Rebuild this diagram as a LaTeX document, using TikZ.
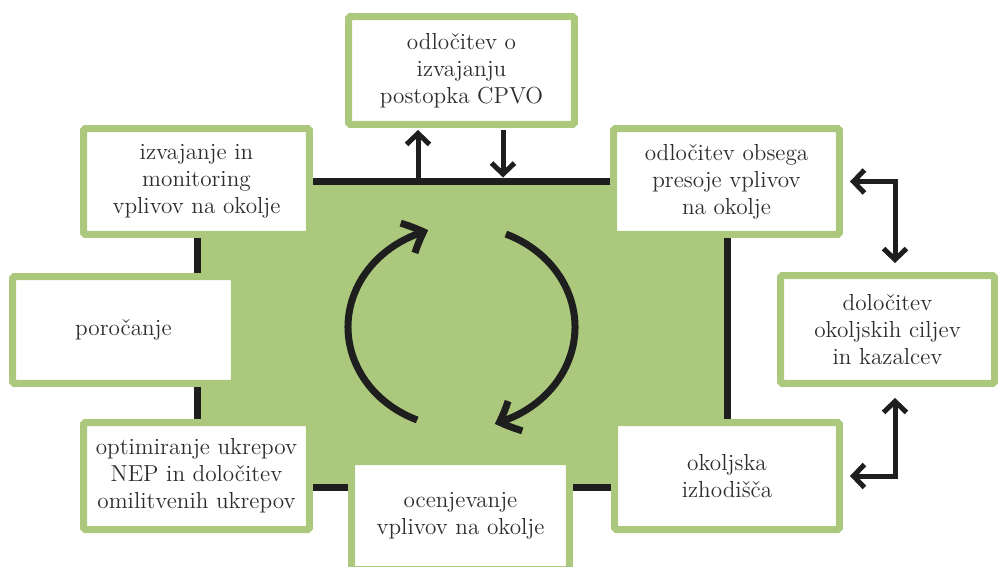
\documentclass[tikz,border=0pt]{standalone}
\usetikzlibrary{arrows.meta,bending,calc}
\definecolor{leaf}{RGB}{172,200,124}
\definecolor{ink}{RGB}{30,30,30}
\definecolor{lettering}{RGB}{45,45,45}
\begin{document}
\begin{tikzpicture}[x=0.02cm,y=0.02cm,
  stage/.style={draw=leaf, line width=0.14cm, fill=white, rounded corners=1pt,
    align=center, inner sep=0pt, text=lettering,
    font=\fontsize{13.2}{15.4}\selectfont},
  rim/.style={line width=0.14cm, draw=ink},
  link/.style={line width=0.1cm, draw=ink, -{Straight Barb[length=0.22cm,width=0.46cm]}},
  twoway/.style={line width=0.1cm, draw=ink,
    {Straight Barb[length=0.22cm,width=0.46cm]}-{Straight Barb[length=0.22cm,width=0.46cm]}},
  turn/.style={line width=0.14cm, draw=ink, -{Straight Barb[bend,length=0.34cm,width=0.66cm]}}
]
\useasboundingbox (0,0) rectangle (999,566);
\clip (0,0) rectangle (999,566);

% central process field with its black border
\fill[leaf] (197,79) rectangle (727,385);
\draw[rim] (197,79) rectangle (727,385);

% process stages
\node[stage, minimum width=4.52cm, minimum height=2.16cm] (top) at (461.5,495.5)
  {odločitev o\\izvajanju\\postopka CPVO};
\node[stage, minimum width=4.52cm, minimum height=2.12cm] (tl) at (196.5,384.5)
  {izvajanje in\\monitoring\\vplivov na okolje};
\node[stage, minimum width=4.52cm, minimum height=2.12cm] (tr) at (726.5,384.5)
  {odločitev obsega\\presoje vplivov\\na okolje};
\node[stage, minimum width=4.44cm, minimum height=2.14cm] (l) at (123.5,236)
  {poročanje};
\node[stage, minimum width=4.28cm, minimum height=2.16cm] (r) at (887.5,236.5)
  {določitev\\okoljskih ciljev\\in kazalcev};
\node[stage, minimum width=4.52cm, minimum height=2.14cm] (bl) at (196.5,90)
  {optimiranje ukrepov\\NEP in določitev\\omilitvenih ukrepov};
\node[stage, minimum width=4.50cm, minimum height=2.14cm] (br) at (727,90)
  {okoljska\\izhodišča};
\node[stage, minimum width=4.36cm, minimum height=2.16cm] (b) at (460.5,50.5)
  {ocenjevanje\\vplivov na okolje};

% exchange with the screening decision
\coordinate (upfoot) at (418,385);
\coordinate (downfoot) at (503,388.5);
\draw[link, shorten >=0.04cm] (upfoot) -- (upfoot |- top.south);
\draw[link, shorten <=0.04cm] (downfoot |- top.south) -- (downfoot);

% links to the environmental objectives
\draw[twoway] ([xshift=0.14cm]tr.east) -| ([xshift=0.15cm,yshift=0.18cm]r.north);
\draw[twoway] ([xshift=0.15cm,yshift=-0.22cm]r.south) |- ([xshift=0.14cm]br.east);

% iterative cycle in the middle
\coordinate (hub) at (461.5,239);
\draw[turn] ($(hub)+(247:113.5 and 101)$)
  arc[start angle=247, end angle=107, x radius=113.5, y radius=101];
\draw[turn] ($(hub)+(67:113.5 and 101)$)
  arc[start angle=67, end angle=-73, x radius=113.5, y radius=101];
\end{tikzpicture}
\end{document}
